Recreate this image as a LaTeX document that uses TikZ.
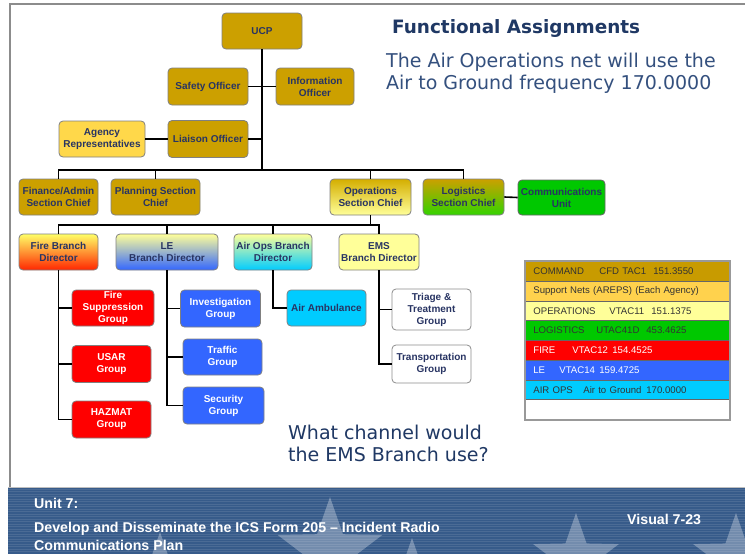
\documentclass[tikz,border=0pt]{standalone}
\usepackage{fontspec}
\setmainfont{Liberation Sans}
\newfontfamily\vfont{DejaVu Sans}
\definecolor{gold}{HTML}{CCA000}
\definecolor{agency}{HTML}{FFD84A}
\definecolor{paleyel}{HTML}{FFFF99}
\definecolor{grn}{HTML}{00C800}
\definecolor{firered}{HTML}{FF0000}
\definecolor{leblue}{HTML}{3366FF}
\definecolor{aircyan}{HTML}{00CCFF}
\definecolor{navy}{HTML}{1F3864}
\definecolor{slate}{HTML}{34507E}
\definecolor{boxtxt}{HTML}{283463}
\definecolor{footer}{HTML}{375B8A}
\definecolor{supp}{HTML}{FFD24D}
\definecolor{cmdgold}{HTML}{C89B00}
\tikzset{
  box/.style={draw=black!50, line width=0.8pt, rounded corners=4pt, align=center,
    inner sep=1pt, text=boxtxt,
    font=\fontsize{10}{12}\selectfont\bfseries},
  goldbox/.style={box, fill=gold},
  redbox/.style={box, fill=firered, text=white},
  bluebox/.style={box, fill=leblue, text=white},
  whitebox/.style={box, fill=white, draw=black!45},
  link/.style={line width=1.6pt, black},
  row/.style={draw=black!60, line width=0.8pt, minimum height=19.75pt,
    text width=188pt, inner xsep=8pt, inner ysep=0pt, align=left, anchor=north west,
    font=\fontsize{9.6}{11}\selectfont, text=black!80},
  starfill/.style={fill=white, opacity=0.3},
  foottext/.style={text=white, inner sep=0pt, font=\fontsize{14.2}{18}\selectfont\bfseries},
}
\newcommand\footstar[3]{%
  \fill[starfill, shift={(#1,#2)}, scale=#3]
    (-90:1) -- (-54:.4) -- (-18:1) -- (18:.4) -- (54:1) -- (90:.4) --
    (126:1) -- (162:.4) -- (198:1) -- (234:.4) -- cycle;}
\begin{document}
\begin{tikzpicture}[x=1pt,y=-1pt]
\useasboundingbox (0,0) rectangle (745,554);
\fill[white] (0,0) rectangle (745,554);
% slide frame
\draw[black!45, line width=2pt] (9.5,487) -- (9.5,4) -- (745,4);

% footer band
\fill[footer] (8,487) rectangle (745,554);
\begin{scope}
  \clip (8,487) rectangle (745,554);
  \footstar{160}{572}{40}
  \footstar{330}{552}{55}
  \footstar{412}{574}{36}
  \footstar{576}{558}{45}
  \footstar{736}{558}{45}
  \foreach \yy in {489,491.5,...,554}
    \draw[white, opacity=0.1, line width=0.7pt] (8,\yy) -- (745,\yy);
\end{scope}
\draw[black!25, line width=1pt] (8,487) -- (745,487);
\node[foottext, anchor=west] (unit) at (34,503) {Unit 7:};
\node[foottext, anchor=west, align=left] (course) at (34,536)
  {Develop and Disseminate the ICS Form 205 -- Incident Radio\\Communications Plan};
\node[foottext, anchor=west] (visual) at (627,519) {Visual 7-23};

% headings
\node[anchor=west, text=navy, inner sep=0pt, font=\vfont\fontsize{18.4}{20}\selectfont\bfseries] (title) at (392,28) {Functional Assignments};
\node[anchor=west, text=slate, align=left, inner sep=0pt,
  font=\vfont\fontsize{19}{22}\selectfont] (note) at (386,73)
  {The Air Operations net will use the\\Air to Ground frequency 170.0000};
\node[anchor=west, text=navy, align=left, inner sep=0pt,
  font=\vfont\fontsize{19}{22}\selectfont] (question) at (288,443)
  {What channel would\\the EMS Branch use?};

% command and general staff
\node[goldbox, minimum width=80pt, minimum height=36pt] (ucp) at (262,31) {UCP};
\node[goldbox, minimum width=80pt, minimum height=37pt] (safety) at (208,86.5) {Safety Officer};
\node[goldbox, minimum width=78pt, minimum height=37pt] (info) at (315,86.5) {Information\\Officer};
\node[goldbox, minimum width=80pt, minimum height=37pt] (liaison) at (208,139) {Liaison Officer};
\node[box, fill=agency, minimum width=86pt, minimum height=36pt] (agency) at (102,139) {Agency\\Representatives};
\node[goldbox, minimum width=79pt, minimum height=36pt] (fin) at (58.5,197) {Finance/Admin\\Section Chief};
\node[goldbox, minimum width=89pt, minimum height=36pt] (plan) at (155.5,197) {Planning Section\\Chief};
\node[box, top color=gold!85!yellow, bottom color=paleyel, minimum width=81pt, minimum height=36pt] (ops) at (370.5,197) {Operations\\Section Chief};
\node[box, top color=gold, bottom color=grn!80!yellow, minimum width=81pt, minimum height=36pt] (log) at (463.5,197) {Logistics\\Section Chief};
\node[box, fill=grn, draw=black!60, minimum width=87pt, minimum height=35pt] (comm) at (561.5,197.5) {Communications\\Unit};

% branches
\node[box, top color=yellow!60, bottom color=orange!30!red, minimum width=79pt, minimum height=36pt] (fire) at (58.5,252) {Fire Branch\\Director};
\node[box, top color=paleyel, bottom color=leblue, minimum width=102pt, minimum height=36pt] (le) at (167,252) {LE\\Branch Director};
\node[box, top color=paleyel, bottom color=aircyan, minimum width=78pt, minimum height=36pt] (air) at (273,252) {Air Ops Branch\\Director};
\node[box, fill=paleyel, minimum width=80pt, minimum height=36pt] (ems) at (379,252) {EMS\\Branch Director};

% groups
\node[redbox, minimum width=82pt, minimum height=36pt] (fsg) at (113,308) {Fire\\Suppression\\Group};
\node[redbox, minimum width=79pt, minimum height=37pt] (usar) at (111.5,364) {USAR\\Group};
\node[redbox, minimum width=79pt, minimum height=37pt] (haz) at (111.5,419.5) {HAZMAT\\Group};
\node[bluebox, minimum width=80pt, minimum height=37pt] (inv) at (220.5,308.5) {Investigation\\Group};
\node[bluebox, minimum width=79pt, minimum height=36pt] (traf) at (222.5,357) {Traffic\\Group};
\node[bluebox, minimum width=81pt, minimum height=37pt] (sec) at (223.5,405.5) {Security\\Group};
\node[box, fill=aircyan, minimum width=79pt, minimum height=36pt] (amb) at (326.5,308) {Air Ambulance};
\node[whitebox, minimum width=79pt, minimum height=41pt] (tri) at (431.5,309.5) {Triage \&\\Treatment\\Group};
\node[whitebox, minimum width=79pt, minimum height=38pt] (trans) at (431.5,364) {Transportation\\Group};

% connectors
\coordinate (bus1) at (262,170);
\coordinate (bus2) at (370.5,225);
\draw[link] (ucp.south) -- (bus1);
\draw[link] (safety.east) -- (info.west);
\draw[link] (liaison.east) -- (liaison.east -| bus1);
\draw[link] (agency.east) -- (liaison.west);
\draw[link] (fin.north) -- (fin.north |- bus1) -- (log.north |- bus1) -- (log.north);
\draw[link] (plan.north) -- (plan.north |- bus1);
\draw[link] (ops.north) -- (ops.north |- bus1);
\draw[link] (log.east) -- (comm.west);
\draw[link] (ops.south) -- (bus2);
\draw[link] (fire.north) -- (fire.north |- bus2) -- (ems.north |- bus2) -- (ems.north);
\draw[link] (le.north) -- (le.north |- bus2);
\draw[link] (air.north) -- (air.north |- bus2);
\draw[link] (fire.south) |- (haz.west);
\draw[link] (fire.south |- fsg.west) -- (fsg.west);
\draw[link] (fire.south |- usar.west) -- (usar.west);
\draw[link] (le.south) |- (sec.west);
\draw[link] (le.south |- inv.west) -- (inv.west);
\draw[link] (le.south |- traf.west) -- (traf.west);
\draw[link] (air.south) |- (amb.west);
\draw[link] (ems.south) |- (trans.west);
\draw[link] (ems.south |- tri.west) -- (tri.west);

% radio channel table
\node[row, fill=cmdgold] (r1) at (525,261) {\makebox[66pt][l]{COMMAND}\makebox[54pt][l]{CFD TAC1}151.3550};
\node[row, fill=supp] (r2) at (525,280.75) {Support Nets (AREPS) (Each Agency)};
\node[row, fill=paleyel] (r3) at (525,300.5) {\makebox[76pt][l]{OPERATIONS}\makebox[42pt][l]{VTAC11}151.1375};
\node[row, fill=grn] (r4) at (525,320.25) {\makebox[63pt][l]{LOGISTICS}\makebox[50pt][l]{UTAC41D}453.4625};
\node[row, fill=firered, text=white] (r5) at (525,340) {\makebox[39pt][l]{FIRE}\makebox[40pt][l]{VTAC12}154.4525};
\node[row, fill=leblue, text=white] (r6) at (525,359.75) {\makebox[26pt][l]{LE}\makebox[40pt][l]{VTAC14}159.4725};
\node[row, fill=aircyan] (r7) at (525,379.5) {\makebox[50pt][l]{AIR OPS}\makebox[63pt][l]{Air to Ground}170.0000};
\node[row, fill=white] (r8) at (525,399.25) {};
\draw[black!40, line width=1.6pt] (r1.north west) rectangle (r8.south east);
\end{tikzpicture}
\end{document}
